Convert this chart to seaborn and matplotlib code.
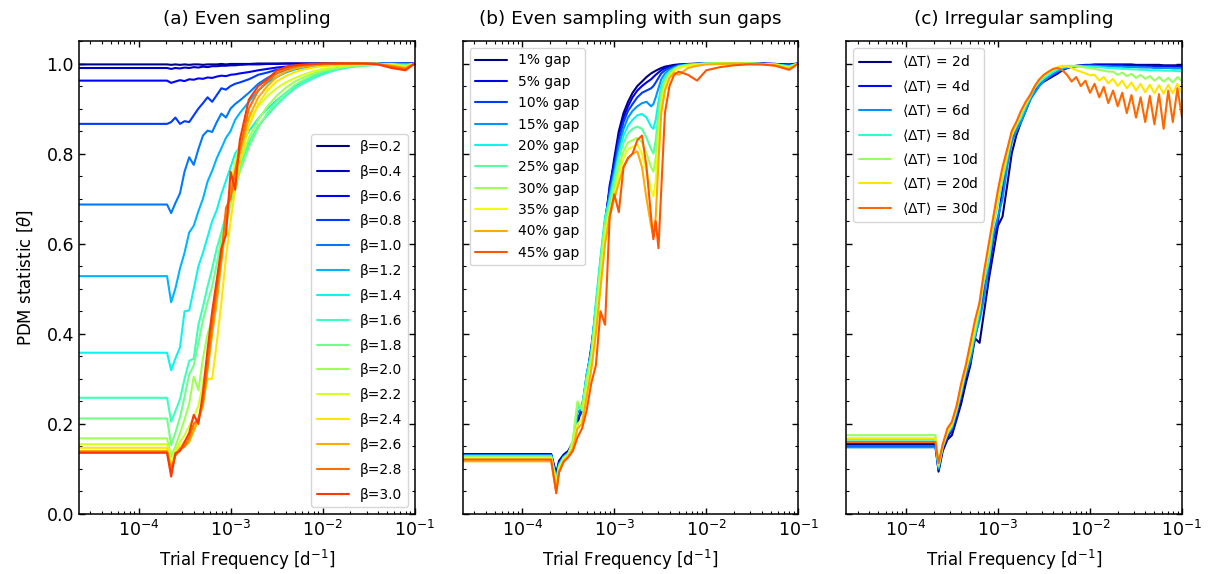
import matplotlib
matplotlib.use("Agg")
import matplotlib.pyplot as plt
import seaborn as sns
from matplotlib import cm
from matplotlib.ticker import MultipleLocator, LogLocator, NullFormatter

# ---------------- data ----------------
# Panel (a): even sampling, different beta
freq_a = [2.24e-5, 2.04e-4, 2.26e-4, 2.51e-4, 2.82e-4, 3.16e-4, 3.55e-4, 3.98e-4, 4.47e-4, 5.01e-4,
          5.62e-4, 6.31e-4, 7.08e-4, 7.94e-4, 8.91e-4, 1.00e-3, 1.12e-3, 1.26e-3, 1.58e-3, 2.00e-3,
          2.51e-3, 3.16e-3, 3.98e-3, 5.01e-3, 6.31e-3, 7.94e-3, 1.00e-2, 1.41e-2, 2.00e-2, 2.82e-2,
          3.98e-2, 5.62e-2, 7.94e-2, 1.00e-1]
labels_a = ["β=0.2", "β=0.4", "β=0.6", "β=0.8", "β=1.0", "β=1.2", "β=1.4", "β=1.6",
            "β=1.8", "β=2.0", "β=2.2", "β=2.4", "β=2.6", "β=2.8", "β=3.0"]
b02 = [0.998, 0.998, 0.997, 0.998, 0.997, 0.998, 0.997, 0.998, 0.998, 0.997, 0.998, 0.998, 0.998, 0.999, 0.998, 0.999, 0.999, 0.999, 0.999, 1.000, 1.000, 1.000, 1.000, 1.000, 1.000, 1.000, 1.000, 1.000, 1.000, 1.000, 1.000, 0.999, 1.000, 1.000]
b04 = [0.990, 0.990, 0.988, 0.990, 0.989, 0.991, 0.990, 0.992, 0.991, 0.993, 0.992, 0.994, 0.994, 0.995, 0.995, 0.996, 0.996, 0.997, 0.998, 0.998, 0.999, 0.999, 1.000, 1.000, 1.000, 1.000, 1.000, 1.000, 1.000, 1.000, 0.999, 1.000, 0.999, 1.000]
b06 = [0.962, 0.962, 0.957, 0.960, 0.963, 0.961, 0.965, 0.964, 0.967, 0.966, 0.969, 0.968, 0.971, 0.973, 0.972, 0.975, 0.976, 0.978, 0.981, 0.985, 0.988, 0.991, 0.993, 0.995, 0.996, 0.997, 0.998, 0.999, 1.000, 1.000, 1.000, 0.999, 1.000, 0.999]
b08 = [0.866, 0.866, 0.870, 0.880, 0.866, 0.872, 0.870, 0.885, 0.900, 0.912, 0.925, 0.915, 0.930, 0.945, 0.942, 0.950, 0.955, 0.958, 0.965, 0.975, 0.980, 0.986, 0.990, 0.993, 0.995, 0.997, 0.998, 0.999, 1.000, 1.000, 1.000, 0.999, 1.000, 0.999]
b10 = [0.687, 0.687, 0.668, 0.690, 0.712, 0.760, 0.792, 0.775, 0.810, 0.840, 0.851, 0.848, 0.870, 0.889, 0.880, 0.900, 0.910, 0.918, 0.935, 0.955, 0.968, 0.978, 0.986, 0.991, 0.994, 0.996, 0.998, 0.999, 1.000, 1.000, 1.000, 0.999, 1.000, 0.999]
b12 = [0.528, 0.528, 0.470, 0.500, 0.545, 0.580, 0.625, 0.640, 0.672, 0.700, 0.738, 0.762, 0.790, 0.812, 0.835, 0.850, 0.875, 0.890, 0.915, 0.940, 0.958, 0.970, 0.980, 0.987, 0.991, 0.994, 0.996, 0.998, 0.999, 1.000, 1.000, 0.999, 0.999, 0.998]
b14 = [0.358, 0.358, 0.319, 0.345, 0.370, 0.450, 0.452, 0.500, 0.550, 0.580, 0.615, 0.650, 0.675, 0.710, 0.740, 0.770, 0.800, 0.815, 0.850, 0.878, 0.900, 0.918, 0.935, 0.950, 0.962, 0.972, 0.980, 0.988, 0.993, 0.996, 0.998, 0.998, 0.997, 0.999]
b16 = [0.258, 0.258, 0.205, 0.228, 0.255, 0.300, 0.340, 0.345, 0.420, 0.460, 0.505, 0.545, 0.590, 0.625, 0.665, 0.700, 0.735, 0.770, 0.825, 0.862, 0.885, 0.908, 0.928, 0.945, 0.957, 0.967, 0.976, 0.986, 0.992, 0.995, 0.997, 0.998, 0.996, 0.999]
b18 = [0.212, 0.212, 0.153, 0.180, 0.215, 0.260, 0.310, 0.330, 0.380, 0.430, 0.470, 0.505, 0.555, 0.610, 0.640, 0.690, 0.720, 0.760, 0.815, 0.858, 0.890, 0.915, 0.935, 0.952, 0.964, 0.974, 0.982, 0.989, 0.994, 0.996, 0.998, 0.998, 0.995, 0.999]
b20 = [0.168, 0.168, 0.127, 0.150, 0.180, 0.210, 0.245, 0.305, 0.275, 0.345, 0.400, 0.430, 0.515, 0.590, 0.650, 0.700, 0.740, 0.780, 0.835, 0.875, 0.905, 0.928, 0.946, 0.960, 0.970, 0.978, 0.985, 0.991, 0.995, 0.997, 0.998, 0.999, 0.994, 1.000]
b22 = [0.155, 0.155, 0.110, 0.140, 0.160, 0.175, 0.195, 0.215, 0.240, 0.290, 0.350, 0.420, 0.500, 0.590, 0.660, 0.730, 0.780, 0.820, 0.875, 0.905, 0.928, 0.945, 0.958, 0.968, 0.976, 0.983, 0.988, 0.993, 0.996, 0.998, 0.999, 0.997, 0.993, 1.000]
b24 = [0.147, 0.147, 0.100, 0.135, 0.150, 0.160, 0.170, 0.185, 0.215, 0.250, 0.300, 0.300, 0.380, 0.470, 0.570, 0.650, 0.720, 0.780, 0.860, 0.910, 0.940, 0.960, 0.972, 0.981, 0.987, 0.991, 0.994, 0.997, 0.998, 0.999, 1.000, 0.996, 0.992, 1.000]
b26 = [0.140, 0.140, 0.100, 0.130, 0.142, 0.150, 0.160, 0.185, 0.210, 0.240, 0.320, 0.400, 0.470, 0.560, 0.640, 0.720, 0.760, 0.800, 0.880, 0.925, 0.950, 0.970, 0.982, 0.989, 0.993, 0.996, 0.998, 0.999, 1.000, 1.000, 0.999, 0.995, 0.990, 1.000]
b28 = [0.137, 0.137, 0.095, 0.130, 0.145, 0.150, 0.170, 0.200, 0.210, 0.250, 0.330, 0.420, 0.500, 0.570, 0.680, 0.700, 0.760, 0.810, 0.900, 0.940, 0.960, 0.978, 0.988, 0.993, 0.996, 0.998, 0.999, 1.000, 1.000, 1.000, 0.999, 0.993, 0.988, 1.000]
b30 = [0.136, 0.136, 0.083, 0.135, 0.140, 0.160, 0.180, 0.220, 0.200, 0.270, 0.365, 0.450, 0.520, 0.590, 0.620, 0.760, 0.720, 0.830, 0.920, 0.950, 0.965, 0.984, 0.992, 0.996, 0.998, 0.999, 1.000, 1.000, 1.000, 1.000, 0.998, 0.990, 0.985, 1.000]
series_a = [b02, b04, b06, b08, b10, b12, b14, b16, b18, b20, b22, b24, b26, b28, b30]

# Panel (b): even sampling with sun gaps
freq_b = [2.24e-5, 2.06e-4, 2.34e-4, 2.51e-4, 2.82e-4, 3.16e-4, 3.55e-4, 3.98e-4, 4.47e-4, 5.01e-4,
          5.62e-4, 6.31e-4, 7.08e-4, 7.94e-4, 8.91e-4, 1.00e-3, 1.12e-3, 1.26e-3, 1.41e-3, 1.58e-3,
          1.78e-3, 2.00e-3, 2.24e-3, 2.51e-3, 2.66e-3, 2.82e-3, 3.02e-3, 3.24e-3, 3.55e-3, 3.98e-3,
          4.47e-3, 5.01e-3, 6.31e-3, 7.94e-3, 1.00e-2, 1.41e-2, 2.00e-2, 2.82e-2, 3.98e-2, 5.62e-2,
          7.94e-2, 1.00e-1]
labels_b = ["1% gap", "5% gap", "10% gap", "15% gap", "20% gap",
            "25% gap", "30% gap", "35% gap", "40% gap", "45% gap"]
g01 = [0.133, 0.133, 0.090, 0.118, 0.132, 0.140, 0.160, 0.200, 0.240, 0.300, 0.370, 0.450, 0.560, 0.650, 0.720, 0.790, 0.850, 0.890, 0.915, 0.935, 0.950, 0.960, 0.970, 0.978, 0.981, 0.984, 0.987, 0.990, 0.993, 0.995, 0.997, 0.998, 0.999, 1.000, 1.000, 1.000, 1.000, 1.000, 1.000, 0.999, 0.998, 1.000]
g05 = [0.132, 0.132, 0.085, 0.115, 0.130, 0.138, 0.155, 0.210, 0.230, 0.310, 0.360, 0.460, 0.550, 0.640, 0.730, 0.780, 0.840, 0.880, 0.905, 0.925, 0.940, 0.950, 0.958, 0.965, 0.970, 0.975, 0.980, 0.985, 0.990, 0.993, 0.995, 0.997, 0.998, 0.999, 1.000, 1.000, 1.000, 1.000, 1.000, 0.999, 0.997, 1.000]
g10 = [0.131, 0.131, 0.080, 0.112, 0.128, 0.136, 0.150, 0.215, 0.225, 0.305, 0.365, 0.450, 0.545, 0.650, 0.720, 0.770, 0.830, 0.870, 0.895, 0.910, 0.925, 0.935, 0.940, 0.945, 0.950, 0.958, 0.968, 0.978, 0.985, 0.990, 0.993, 0.996, 0.998, 0.999, 1.000, 1.000, 1.000, 1.000, 0.999, 0.999, 0.996, 1.000]
g15 = [0.130, 0.130, 0.078, 0.110, 0.127, 0.135, 0.150, 0.225, 0.235, 0.300, 0.355, 0.460, 0.560, 0.640, 0.710, 0.760, 0.815, 0.855, 0.880, 0.895, 0.905, 0.912, 0.915, 0.905, 0.910, 0.925, 0.945, 0.965, 0.978, 0.986, 0.991, 0.995, 0.998, 0.999, 1.000, 1.000, 1.000, 1.000, 0.999, 0.998, 0.995, 1.000]
g20 = [0.129, 0.129, 0.075, 0.108, 0.126, 0.134, 0.155, 0.235, 0.240, 0.310, 0.360, 0.470, 0.570, 0.660, 0.700, 0.750, 0.800, 0.840, 0.862, 0.875, 0.885, 0.888, 0.880, 0.860, 0.855, 0.875, 0.915, 0.950, 0.970, 0.982, 0.989, 0.994, 0.997, 0.999, 1.000, 1.000, 1.000, 1.000, 0.999, 0.998, 0.994, 1.000]
g25 = [0.128, 0.128, 0.072, 0.106, 0.125, 0.133, 0.160, 0.245, 0.230, 0.300, 0.350, 0.455, 0.560, 0.650, 0.690, 0.740, 0.790, 0.825, 0.845, 0.855, 0.860, 0.855, 0.835, 0.810, 0.800, 0.830, 0.890, 0.940, 0.965, 0.980, 0.988, 0.993, 0.997, 0.998, 1.000, 1.000, 1.000, 1.000, 0.999, 0.998, 0.993, 1.000]
g30 = [0.126, 0.126, 0.068, 0.104, 0.124, 0.132, 0.165, 0.250, 0.235, 0.295, 0.345, 0.440, 0.545, 0.640, 0.680, 0.725, 0.770, 0.805, 0.825, 0.830, 0.835, 0.825, 0.800, 0.770, 0.760, 0.790, 0.860, 0.925, 0.958, 0.976, 0.986, 0.992, 0.996, 0.998, 1.000, 1.000, 1.000, 1.000, 0.999, 0.997, 0.992, 1.000]
g35 = [0.124, 0.124, 0.062, 0.100, 0.122, 0.130, 0.150, 0.200, 0.210, 0.270, 0.330, 0.420, 0.520, 0.620, 0.670, 0.710, 0.750, 0.790, 0.810, 0.815, 0.820, 0.800, 0.760, 0.720, 0.705, 0.740, 0.830, 0.910, 0.950, 0.972, 0.984, 0.990, 0.995, 0.997, 0.999, 1.000, 1.000, 1.000, 0.999, 0.997, 0.990, 1.000]
g40 = [0.117, 0.117, 0.050, 0.095, 0.118, 0.128, 0.145, 0.190, 0.200, 0.260, 0.320, 0.400, 0.500, 0.600, 0.660, 0.700, 0.735, 0.770, 0.790, 0.800, 0.805, 0.770, 0.700, 0.640, 0.615, 0.660, 0.780, 0.890, 0.940, 0.968, 0.980, 0.975, 0.990, 0.995, 0.998, 0.999, 1.000, 0.999, 0.998, 0.996, 0.988, 1.000]
g45 = [0.121, 0.121, 0.046, 0.092, 0.116, 0.126, 0.140, 0.170, 0.190, 0.230, 0.290, 0.330, 0.450, 0.420, 0.660, 0.710, 0.670, 0.770, 0.790, 0.800, 0.830, 0.840, 0.770, 0.660, 0.610, 0.650, 0.590, 0.720, 0.890, 0.950, 0.975, 0.982, 0.975, 0.962, 0.985, 0.992, 0.996, 0.998, 0.998, 0.995, 0.986, 1.000]
series_b = [g01, g05, g10, g15, g20, g25, g30, g35, g40, g45]

# Panel (c): irregular sampling
freq_c = [2.24e-5, 2.09e-4, 2.26e-4, 2.51e-4, 2.82e-4, 3.16e-4, 3.55e-4, 3.98e-4, 4.47e-4, 5.01e-4,
          5.62e-4, 6.31e-4, 7.08e-4, 7.94e-4, 8.91e-4, 1.00e-3, 1.12e-3, 1.26e-3, 1.41e-3, 1.58e-3,
          1.78e-3, 2.00e-3, 2.24e-3, 2.51e-3, 2.82e-3, 3.16e-3, 3.55e-3, 3.98e-3, 4.47e-3, 5.01e-3,
          5.62e-3, 6.31e-3, 7.08e-3, 7.94e-3, 8.91e-3, 1.00e-2, 1.12e-2, 1.26e-2, 1.41e-2, 1.58e-2,
          1.78e-2, 2.00e-2, 2.24e-2, 2.51e-2, 2.82e-2, 3.16e-2, 3.55e-2, 3.98e-2, 4.47e-2, 5.01e-2,
          5.62e-2, 6.31e-2, 7.08e-2, 7.94e-2, 8.91e-2, 1.00e-1]
labels_c = [r"$\langle\Delta\mathrm{T}\rangle$ = 2d", r"$\langle\Delta\mathrm{T}\rangle$ = 4d",
            r"$\langle\Delta\mathrm{T}\rangle$ = 6d", r"$\langle\Delta\mathrm{T}\rangle$ = 8d",
            r"$\langle\Delta\mathrm{T}\rangle$ = 10d", r"$\langle\Delta\mathrm{T}\rangle$ = 20d",
            r"$\langle\Delta\mathrm{T}\rangle$ = 30d"]
d02 = [0.155, 0.155, 0.094, 0.140, 0.165, 0.175, 0.210, 0.245, 0.290, 0.330, 0.390, 0.380, 0.450, 0.520, 0.580, 0.640, 0.660, 0.730, 0.800, 0.840,
       0.870, 0.895, 0.920, 0.938, 0.952, 0.960, 0.966, 0.972, 0.978, 0.985, 0.990, 0.993, 0.995, 0.996, 0.997, 0.997, 0.998, 0.998, 0.998, 0.998,
       0.998, 0.998, 0.998, 0.998, 0.998, 0.997, 0.997, 0.997, 0.997, 0.997, 0.997, 0.996, 0.996, 0.996, 0.996, 0.996]
d04 = [0.150, 0.150, 0.098, 0.145, 0.170, 0.185, 0.215, 0.265, 0.305, 0.345, 0.390, 0.440, 0.500, 0.540, 0.610, 0.650, 0.720, 0.780, 0.830, 0.855,
       0.880, 0.900, 0.925, 0.940, 0.955, 0.962, 0.968, 0.975, 0.980, 0.986, 0.990, 0.992, 0.994, 0.995, 0.996, 0.996, 0.996, 0.996, 0.996, 0.996,
       0.996, 0.996, 0.996, 0.995, 0.995, 0.995, 0.995, 0.995, 0.994, 0.994, 0.994, 0.994, 0.994, 0.993, 0.993, 0.993]
d06 = [0.148, 0.148, 0.100, 0.148, 0.175, 0.190, 0.225, 0.270, 0.310, 0.340, 0.395, 0.430, 0.480, 0.560, 0.620, 0.660, 0.700, 0.770, 0.825, 0.850,
       0.870, 0.895, 0.920, 0.935, 0.950, 0.962, 0.970, 0.977, 0.983, 0.988, 0.991, 0.993, 0.994, 0.995, 0.995, 0.995, 0.995, 0.994, 0.994, 0.994,
       0.993, 0.993, 0.993, 0.992, 0.992, 0.992, 0.991, 0.991, 0.991, 0.990, 0.990, 0.990, 0.990, 0.989, 0.989, 0.989]
d08 = [0.165, 0.165, 0.105, 0.150, 0.180, 0.195, 0.230, 0.270, 0.320, 0.355, 0.400, 0.450, 0.520, 0.560, 0.640, 0.690, 0.740, 0.790, 0.840, 0.860,
       0.880, 0.905, 0.925, 0.945, 0.958, 0.968, 0.975, 0.982, 0.987, 0.991, 0.993, 0.994, 0.994, 0.994, 0.993, 0.993, 0.992, 0.992, 0.991, 0.990,
       0.990, 0.989, 0.988, 0.988, 0.987, 0.987, 0.986, 0.986, 0.985, 0.985, 0.985, 0.984, 0.984, 0.984, 0.983, 0.983]
d10 = [0.175, 0.175, 0.108, 0.152, 0.185, 0.200, 0.240, 0.280, 0.330, 0.370, 0.410, 0.470, 0.540, 0.580, 0.660, 0.700, 0.760, 0.800, 0.845, 0.865,
       0.890, 0.910, 0.930, 0.948, 0.962, 0.972, 0.980, 0.986, 0.990, 0.993, 0.995, 0.995, 0.994, 0.993, 0.991, 0.990, 0.988, 0.986, 0.984, 0.982,
       0.982, 0.975, 0.980, 0.972, 0.977, 0.968, 0.975, 0.966, 0.972, 0.962, 0.970, 0.960, 0.968, 0.958, 0.970, 0.960]
d20 = [0.168, 0.168, 0.110, 0.155, 0.180, 0.200, 0.235, 0.280, 0.320, 0.360, 0.420, 0.460, 0.530, 0.590, 0.650, 0.700, 0.750, 0.800, 0.840, 0.865,
       0.890, 0.910, 0.930, 0.950, 0.965, 0.975, 0.982, 0.988, 0.992, 0.995, 0.994, 0.990, 0.985, 0.982, 0.978, 0.974, 0.975, 0.962, 0.970, 0.956,
       0.966, 0.950, 0.962, 0.945, 0.958, 0.940, 0.955, 0.936, 0.953, 0.934, 0.952, 0.933, 0.953, 0.934, 0.955, 0.935]
d30 = [0.160, 0.160, 0.113, 0.155, 0.190, 0.205, 0.240, 0.290, 0.330, 0.380, 0.430, 0.470, 0.540, 0.600, 0.660, 0.720, 0.770, 0.810, 0.850, 0.870,
       0.895, 0.915, 0.930, 0.950, 0.965, 0.975, 0.982, 0.988, 0.990, 0.985, 0.975, 0.960, 0.970, 0.950, 0.962, 0.935, 0.955, 0.925, 0.948, 0.912,
       0.940, 0.905, 0.935, 0.890, 0.930, 0.880, 0.925, 0.870, 0.928, 0.865, 0.932, 0.855, 0.940, 0.870, 0.945, 0.880]
series_c = [d02, d04, d06, d08, d10, d20, d30]

titles = ["(a) Even sampling", "(b) Even sampling with sun gaps", "(c) Irregular sampling"]

# ---------------- style ----------------
sns.set_theme(style="ticks")
plt.rcParams.update({
    "font.family": ["DejaVu Sans"],
    "mathtext.fontset": "dejavusans",
    "xtick.direction": "in", "ytick.direction": "in",
    "xtick.top": True, "ytick.right": True,
    "xtick.major.size": 4.5, "ytick.major.size": 4.5,
    "xtick.minor.size": 2.5, "ytick.minor.size": 2.5,
    "xtick.major.width": 1.0, "ytick.major.width": 1.0,
    "xtick.minor.width": 0.8, "ytick.minor.width": 0.8,
    "axes.edgecolor": "black", "axes.linewidth": 1.1,
    "xtick.color": "black", "ytick.color": "black",
    "axes.labelcolor": "black", "text.color": "black",
    "xtick.labelsize": 12.5, "ytick.labelsize": 12.5,
    "axes.labelsize": 12, "axes.titlesize": 13.3,
})

fig, axes = plt.subplots(1, 3, figsize=(12.09, 5.74), dpi=100, sharey=True)
fig.subplots_adjust(left=0.0653, right=0.9777, bottom=0.1045, top=0.9286, wspace=0.143)

panels = [
    (freq_a, series_a, labels_a, cm.jet([i * 0.85 / 14 for i in range(15)]), "lower right", 0.78),
    (freq_b, series_b, labels_b, cm.jet([i * 0.82 / 9 for i in range(10)]), "upper left", 0.53),
    (freq_c, series_c, labels_c, cm.jet([i * 0.80 / 6 for i in range(7)]), "upper left", 0.53),
]

for ax, (freq, series, labels, colors, loc, spacing), title in zip(axes, panels, titles):
    for vals, lab, col in zip(series, labels, colors):
        sns.lineplot(x=freq, y=vals, ax=ax, color=col, lw=1.5, label=lab,
                     sort=False, estimator=None)
    ax.set_xscale("log")
    ax.set_xlim(2.25e-5, 1e-1)
    ax.set_ylim(0, 1.05)
    ax.xaxis.set_major_locator(LogLocator(base=10, numticks=10))
    ax.xaxis.set_minor_locator(LogLocator(base=10, subs=[2, 3, 4, 5, 6, 7, 8, 9], numticks=50))
    ax.xaxis.set_minor_formatter(NullFormatter())
    ax.yaxis.set_major_locator(MultipleLocator(0.2))
    ax.yaxis.set_minor_locator(MultipleLocator(0.05))
    ax.tick_params(which="both", top=True, right=True, direction="in")
    ax.tick_params(axis="x", which="major", pad=4)
    ax.set_xlabel(r"Trial Frequency [d$^{-1}$]", labelpad=6)
    ax.set_title(title, pad=12)
    leg = ax.legend(loc=loc, fontsize=10, frameon=True, fancybox=True, framealpha=0.8,
                    edgecolor="0.8", labelspacing=spacing, handlelength=2.3,
                    borderaxespad=0.5)
    leg.get_frame().set_linewidth(1.0)

axes[0].set_ylabel(r"PDM statistic [$\theta$]", labelpad=8)
axes[0].set_yticks([0.0, 0.2, 0.4, 0.6, 0.8, 1.0])
axes[0].set_yticklabels(["0.0", "0.2", "0.4", "0.6", "0.8", "1.0"])

fig.savefig("out.png", dpi=100)
